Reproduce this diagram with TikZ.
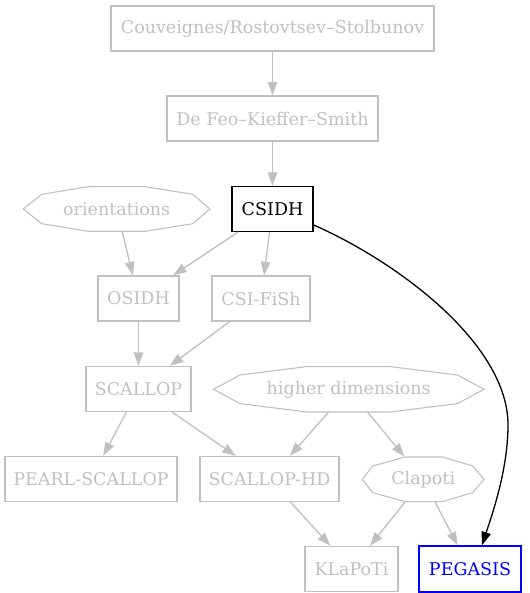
\documentclass[tikz,border=0pt]{standalone}
\usepackage{fontspec}
\setmainfont{DejaVu Serif}
\usetikzlibrary{arrows.meta,calc}
\definecolor{faded}{HTML}{C0C0C0}
\definecolor{pureblue}{HTML}{0000FF}
\tikzset{
  every node/.style={font=\fontsize{17.5pt}{20pt}\selectfont, inner sep=0pt},
  gbox/.style={draw=faded, text=faded, line width=1.3pt, rectangle, minimum height=45pt},
  hbox/.style={draw=black, text=black, line width=1.3pt, rectangle, minimum height=45pt},
  bbox/.style={draw=pureblue, text=pureblue, line width=1.3pt, rectangle, minimum height=46pt},
  octo/.style={text=faded, rectangle, minimum height=45pt},
  octline/.style={draw=faded, line width=1.1pt, line join=miter},
  edge/.style={draw=faded, line width=1.3pt, -{Triangle[length=13.5pt,width=9.5pt]}},
  hedge/.style={draw=black, line width=1.3pt, -{Triangle[length=13.5pt,width=9.5pt]}},
}
\begin{document}
\begin{tikzpicture}[x=1pt,y=-1pt]
\useasboundingbox (0,0) rectangle (529,593);

% rectangular nodes
\node[gbox, minimum width=323pt] (cr) at (272.5,28.5) {Couveignes/Rostovtsev–Stolbunov};
\node[gbox, minimum width=211pt] (dfks) at (272.5,118.5) {De Feo–Kieffer–Smith};
\node[hbox, minimum width=81pt] (csidh) at (272.5,209) {CSIDH};
\node[gbox, minimum width=81pt] (osidh) at (138.5,298.5) {OSIDH};
\node[gbox, minimum width=98pt] (csifish) at (261,298.5) {CSI-FiSh};
\node[gbox, minimum width=105pt] (scallop) at (138.5,389) {SCALLOP};
\node[gbox, minimum width=172pt] (pearl) at (91,479) {PEARL-SCALLOP};
\node[gbox, minimum width=139pt] (shd) at (269.5,479) {SCALLOP-HD};
\node[gbox, minimum width=93pt] (klapoti) at (351.5,569) {KLaPoTi};
\node[bbox, minimum width=102pt] (pegasis) at (470,569) {PEGASIS};

% octagonal nodes: text holders plus their outlines
\node[octo, minimum width=187pt] (orient) at (116.7,209) {orientations};
\node[octo, minimum width=271pt] (higher) at (348.7,389.3) {higher dimensions};
\node[octo, minimum width=122pt] (clapoti) at (423.2,479.3) {Clapoti};

\draw[octline, shift={(orient)}] (-93.4,0) -- (-75,-14.7) -- (-28.4,-22.3) -- (28.3,-22.3)
  -- (76,-14.7) -- (93.3,0) -- (76,14.7) -- (28.3,22.3) -- (-28.4,22.3) -- (-75,14.7) -- cycle;
\draw[octline, shift={(higher)}] (-135.3,0) -- (-108.7,-14.3) -- (-42,-22.7) -- (41.3,-22.7)
  -- (108.7,-14.3) -- (135.3,0) -- (108.7,14.3) -- (41.3,22.7) -- (-42,22.7) -- (-108.7,14.3) -- cycle;
\draw[octline, shift={(clapoti)}] (-60.9,0) -- (-50.5,-13.3) -- (-18.2,-22.3) -- (19.5,-22.3)
  -- (49.5,-13.3) -- (60.8,0) -- (49.5,13.3) -- (19.5,22.3) -- (-18.2,22.3) -- (-50.5,13.3) -- cycle;

% connectors
\draw[edge] (cr) -- (dfks);
\draw[edge] (dfks) -- (csidh);
\draw[edge] (csidh) -- (osidh);
\draw[edge] (csidh) -- (csifish);
\draw[edge] (orient) -- (osidh);
\draw[edge] (osidh) -- (scallop);
\draw[edge] (csifish) -- (scallop);
\draw[edge] (scallop) -- (pearl);
\draw[edge] (scallop) -- (shd);
\draw[edge] (higher) -- (shd);
\draw[edge] (higher) -- (clapoti);
\draw[edge] (shd) -- (klapoti);
\draw[edge] (clapoti) -- (klapoti);
\draw[edge] (clapoti) -- (pegasis);

\coordinate (bend) at (508,425);
\draw[hedge] ($(csidh.east)+(0,16)$) .. controls (400,263) and (508,345) .. (bend)
  .. controls (508,470) and (491.6,516) .. ($(pegasis.north)+(12,0)$);
\end{tikzpicture}
\end{document}
